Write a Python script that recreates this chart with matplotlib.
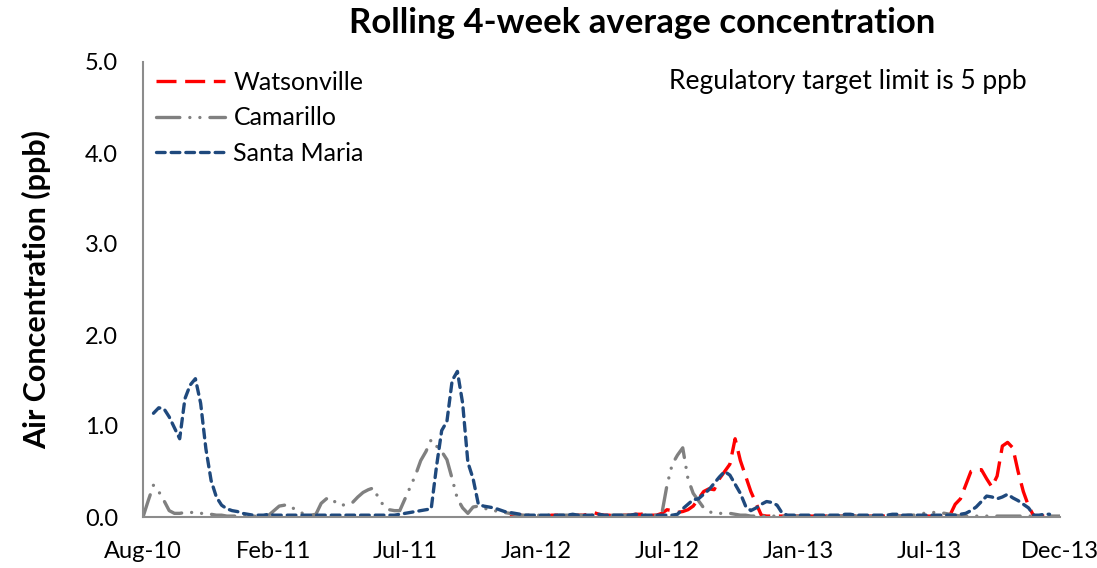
import numpy as np
import matplotlib
matplotlib.use("Agg")
import matplotlib.pyplot as plt

plt.rcParams['font.family'] = ['Lato', 'DejaVu Sans']

N = None
# weekly rolling 4-week averages (ppb), Aug-10 .. Dec-13
tick_labels = ["Aug-10", "Feb-11", "Jul-11", "Jan-12", "Jul-12", "Jan-13", "Jul-13", "Dec-13"]
tick_every = 25

watsonville = [N] * 70 + [
    0.02, 0.03, 0.02, 0.01, 0.02, 0.02, 0.01, 0.01, 0.02, 0.02,   # 70
    0.02, 0.01, 0.01, 0.02, 0.02, 0.03, 0.05, 0.03, 0.02, 0.02,   # 80
    0.01, 0.02, 0.02, 0.02, 0.03, 0.03, 0.04, 0.02, 0.02, 0.04,   # 90
    0.08, 0.07, 0.05, 0.06, 0.08, 0.12, 0.20, 0.28, 0.31, 0.30,   # 100
    0.42, 0.50, 0.58, 0.86, 0.62, 0.45, 0.28, 0.15, 0.02, 0.01,   # 110
    0.01, 0.01, 0.01, 0.01, 0.01, 0.01, 0.01, 0.01, 0.01, 0.01,   # 120
    0.01, 0.01, 0.01, 0.01, 0.01, 0.01, 0.01, 0.01, 0.01, 0.01,   # 130
    0.01, 0.01, 0.01, 0.01, 0.01, 0.01, 0.01, 0.01, 0.01, 0.01,   # 140
    0.01, 0.01, 0.01, 0.01, 0.02, 0.14, 0.20, 0.35, 0.50, 0.52,   # 150
    0.52, 0.42, 0.33, 0.45, 0.78, 0.82, 0.76, 0.50, 0.28, 0.12,   # 160
    0.01, 0.01, 0.01, N, N, N]                                      # 170

camarillo = [
    0.00, 0.18, 0.35, 0.28, 0.18, 0.07, 0.04, 0.04, 0.05, 0.05,   # 0
    0.05, 0.04, 0.04, 0.03, 0.02, 0.02, 0.01, 0.01, 0.01, 0.01,   # 10
    0.01, 0.01, 0.01, 0.01, 0.02, 0.07, 0.12, 0.13, 0.13, 0.08,   # 20
    0.05, 0.03, 0.02, 0.03, 0.15, 0.20, 0.21, 0.14, 0.13, 0.14,   # 30
    0.16, 0.22, 0.27, 0.30, 0.32, 0.20, 0.12, 0.08, 0.07, 0.07,   # 40
    0.20, 0.33, 0.46, 0.62, 0.72, 0.85, 0.78, 0.72, 0.63, 0.42,   # 50
    0.20, 0.10, 0.04, 0.11, 0.12, 0.10, 0.08, 0.07, 0.06, 0.05,   # 60
    0.04, 0.03, 0.02, 0.02, 0.02, 0.02, 0.02, 0.02, 0.02, 0.02,   # 70
    0.02, 0.02, 0.02, 0.02, 0.02, 0.02, 0.02, 0.02, 0.02, 0.02,   # 80
    0.02, 0.02, 0.02, 0.02, 0.02, 0.02, 0.02, 0.02, 0.02, 0.03,   # 90
    0.35, 0.58, 0.68, 0.76, 0.42, 0.26, 0.18, 0.10, 0.06, 0.04,   # 100
    0.04, 0.04, 0.04, 0.03, 0.02, 0.02, 0.01, 0.01, 0.01, 0.01,   # 110
    0.01, 0.01, 0.01, 0.01, 0.01, 0.01, 0.01, 0.01, 0.01, 0.01,   # 120
    0.01, 0.01, 0.01, 0.01, 0.01, 0.01, 0.01, 0.01, 0.01, 0.01,   # 130
    0.01, 0.01, 0.01, 0.01, 0.01, 0.01, 0.02, 0.02, 0.03, 0.04,   # 140
    0.05, 0.05, 0.05, 0.04, 0.03, 0.02, 0.01, 0.01, 0.01, 0.01,   # 150
    0.01, 0.01, 0.01, 0.01, 0.01, 0.01, 0.01, 0.01, 0.01, 0.01,   # 160
    0.01, 0.01, 0.01, 0.01, 0.01, 0.01]                             # 170

santa_maria = [
    N, N, 1.14, 1.20, 1.19, 1.10, 0.98, 0.86, 1.30, 1.45,         # 0
    1.52, 1.25, 0.75, 0.40, 0.22, 0.13, 0.09, 0.07, 0.06, 0.04,   # 10
    0.03, 0.02, 0.02, 0.02, 0.03, 0.02, 0.02, 0.02, 0.02, 0.02,   # 20
    0.02, 0.02, 0.02, 0.02, 0.02, 0.02, 0.02, 0.02, 0.02, 0.02,   # 30
    0.02, 0.02, 0.02, 0.02, 0.02, 0.02, 0.02, 0.02, 0.02, 0.03,   # 40
    0.04, 0.05, 0.06, 0.07, 0.08, 0.09, 0.55, 0.95, 1.05, 1.50,   # 50
    1.60, 1.25, 0.60, 0.42, 0.14, 0.12, 0.11, 0.10, 0.08, 0.06,   # 60
    0.05, 0.04, 0.03, 0.02, 0.02, 0.02, 0.02, 0.02, 0.02, 0.02,   # 70
    0.02, 0.02, 0.03, 0.02, 0.02, 0.02, 0.02, 0.03, 0.02, 0.02,   # 80
    0.02, 0.02, 0.02, 0.02, 0.03, 0.02, 0.02, 0.02, 0.02, 0.02,   # 90
    0.02, 0.02, 0.03, 0.09, 0.14, 0.19, 0.20, 0.25, 0.30, 0.37,   # 100
    0.44, 0.50, 0.46, 0.36, 0.26, 0.12, 0.07, 0.10, 0.14, 0.17,   # 110
    0.16, 0.13, 0.04, 0.02, 0.02, 0.02, 0.02, 0.02, 0.02, 0.02,   # 120
    0.02, 0.02, 0.02, 0.02, 0.03, 0.03, 0.02, 0.02, 0.02, 0.02,   # 130
    0.02, 0.02, 0.02, 0.03, 0.03, 0.02, 0.02, 0.02, 0.02, 0.02,   # 140
    0.02, 0.02, 0.02, 0.02, 0.02, 0.02, 0.03, 0.04, 0.07, 0.11,   # 150
    0.17, 0.23, 0.22, 0.20, 0.22, 0.25, 0.21, 0.18, 0.14, 0.10,   # 160
    0.02, 0.02, 0.03, 0.03, N, N]                                   # 170

series_names = ["Watsonville", "Camarillo", "Santa Maria"]

def arr(v):
    return np.array([np.nan if x is None else x for x in v], dtype=float)

fig = plt.figure(figsize=(10.97, 5.68), dpi=100)
ax = fig.add_axes([143 / 1097, 1 - 517 / 568, (1060 - 143) / 1097, (517 - 62) / 568])

x = np.arange(len(camarillo))
lw = 2.4
ax.plot(x, arr(watsonville), color="#FF0000", lw=lw, dashes=(6, 2.6),
        dash_capstyle="butt", label=series_names[0])
ax.plot(x, arr(camarillo), color="#808080", lw=lw, dashes=(7, 3, 0.01, 3, 0.01, 3),
        dash_capstyle="round", label=series_names[1])
ax.plot(x, arr(santa_maria), color="#1F497D", lw=lw, dashes=(2.6, 1.8),
        dash_capstyle="round", label=series_names[2])

ax.set_xlim(0, len(camarillo) - 1)
ax.set_ylim(0, 5)
ax.set_yticks(np.arange(0, 5.01, 1.0))
ax.set_yticklabels([f"{v:.1f}" for v in np.arange(0, 5.01, 1.0)])
ticks = np.arange(0, len(camarillo), tick_every)
ax.set_xticks(ticks)
ax.set_xticklabels(tick_labels)
ax.tick_params(axis="both", length=0, labelsize=17, colors="black")
ax.tick_params(axis="y", pad=18)
ax.tick_params(axis="x", pad=17)

for s in ["top", "right"]:
    ax.spines[s].set_visible(False)
for s in ["left", "bottom"]:
    ax.spines[s].set_color("#8C8C8C")
    ax.spines[s].set_linewidth(1.5)

ax.set_ylabel("Air Concentration (ppb)", fontsize=22, fontweight="bold", labelpad=24)

leg = ax.legend(loc="upper left", bbox_to_anchor=(-0.005, 1.019), frameon=False,
                borderaxespad=0.3,
                fontsize=18, handlelength=2.75, handletextpad=0.35, labelspacing=0.5)

ax.text(0.769, 0.958, "Regulatory target limit is 5 ppb", transform=ax.transAxes,
        ha="center", va="center", fontsize=19)

fig.text(642 / 1097, 1 - 23 / 568, "Rolling 4-week average concentration",
         ha="center", va="center", fontsize=25, fontweight="bold")

fig.savefig("out.png", dpi=100)
